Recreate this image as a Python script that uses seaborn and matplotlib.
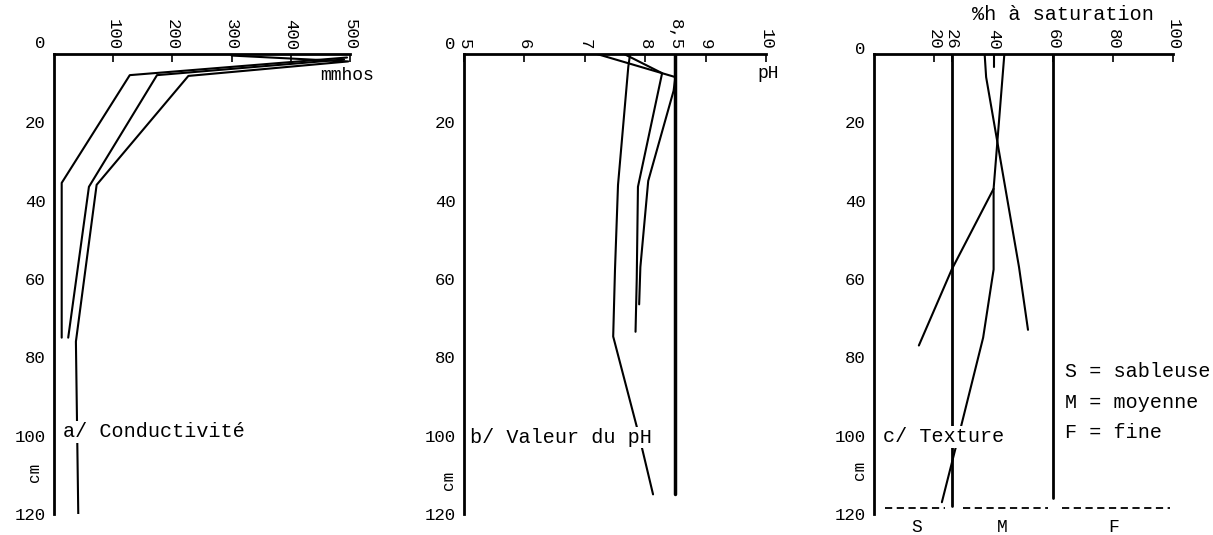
import matplotlib
matplotlib.use("Agg")
import matplotlib.pyplot as plt
import seaborn as sns

# a/ Conductivite (mmhos) against depth (cm)
cond_depth_1 = [3.5, 8, 35.5, 75]
cond_1 = [495, 128, 13, 13]
cond_depth_2 = [4, 8, 36.5, 75]
cond_2 = [490, 174, 59, 24]
cond_depth_3 = [3, 4.5, 8.2, 36, 76, 120]
cond_3 = [300, 497, 227, 72, 37, 41]
cond_ticks = [100, 200, 300, 400, 500]

# b/ Valeur du pH
ph_depth_1 = [2.6, 5.9, 36, 57.6, 74.7, 97.7, 104, 115]
ph_1 = [7.75, 7.72, 7.55, 7.5, 7.47, 7.86, 7.96, 8.13]
ph_depth_2 = [2.6, 8.5, 12, 35, 57, 66.5]
ph_2 = [7.2, 8.5, 8.47, 8.05, 7.92, 7.9]
ph_depth_3 = [2.6, 7.5, 36.5, 60, 73.5]
ph_3 = [7.65, 8.28, 7.88, 7.86, 7.84]
ph_ref_depth = [2.6, 115]
ph_ref = [8.5, 8.5]
ph_ticks = [5, 6, 7, 8, 8.5, 9, 10]
ph_labels = ["5", "6", "7", "8", "8,5", "9", "10"]

# c/ Texture (%h a saturation)
tex_depth_1 = [2.6, 8.5, 57, 73]
tex_1 = [37, 37.5, 48.5, 51.5]
tex_depth_2 = [2.6, 37, 57.6, 75, 98, 117]
tex_2 = [43.6, 40, 40, 36.5, 29, 22.7]
tex_depth_3 = [37, 57.6, 77]
tex_3 = [40, 26, 15]
tex_stub_depth = [2.6, 6]
tex_stub = [40, 40]
limit_s_depth = [2.6, 118]
limit_s = [26, 26]
limit_f_depth = [2.6, 116]
limit_f = [60, 60]
tex_ticks = [20, 26, 40, 60, 80, 100]
class_bounds = [(3.7, 23.7), (29.8, 58.2), (62.9, 99)]
class_names = ["S", "M", "F"]
class_pos = [14.4, 42.8, 80]

depth_ticks = [20, 40, 60, 80, 100, 120]

sns.set_style("white")
plt.rcParams["font.family"] = ["Liberation Mono", "DejaVu Sans Mono"]
plt.rcParams["text.color"] = "black"
plt.rcParams["xtick.color"] = "black"
plt.rcParams["ytick.color"] = "black"

fig = plt.figure(figsize=(12.13, 5.35), dpi=100)
bottom = 0.0393
height = 0.8598
ax_a = fig.add_axes([0.04452, bottom, 0.2440, height])
ax_b = fig.add_axes([0.38252, bottom, 0.24897, height])
ax_c = fig.add_axes([0.72053, bottom, 0.2465, height])

box = dict(facecolor="white", edgecolor="none", pad=1)


def line(ax, x, y, lw=1.5):
    sns.lineplot(x=x, y=y, sort=False, estimator=None, color="black",
                 linewidth=lw, ax=ax)


def frame(ax, xlim, ticks, labels, zero_depth, cm_depth, cm_off):
    ax.set_xlim(*xlim)
    ax.set_ylim(120, 2.6)
    ax.xaxis.tick_top()
    ax.set_xticks(ticks)
    ax.set_xticklabels(labels)
    ax.set_yticks(depth_ticks)
    ax.tick_params(axis="x", direction="in", length=6, width=1.2,
                   labelrotation=-90, pad=3, labelsize=12.5)
    ax.tick_params(axis="y", length=0, pad=6, labelsize=12.5)
    for s in ["right", "bottom"]:
        ax.spines[s].set_visible(False)
    for s in ["top", "left"]:
        ax.spines[s].set_linewidth(2)
        ax.spines[s].set_color("black")
    ax.set_xlabel("")
    ax.set_ylabel("")
    ax.annotate("0", xy=(0, zero_depth), xycoords=("axes fraction", "data"),
                xytext=(-6, 0), textcoords="offset points", ha="right",
                va="center", fontsize=12.5, annotation_clip=False)
    ax.annotate("cm", xy=(0, cm_depth), xycoords=("axes fraction", "data"),
                xytext=(-cm_off, 0), textcoords="offset points", ha="center",
                va="center", rotation=90, fontsize=11.5, annotation_clip=False)


# panel a
line(ax_a, cond_1, cond_depth_1)
line(ax_a, cond_2, cond_depth_2)
line(ax_a, cond_3, cond_depth_3)
frame(ax_a, (0, 500), cond_ticks, [str(t) for t in cond_ticks], 0, 109.5, 14)
ax_a.text(449, 8, "mmhos", fontsize=13, va="center")
ax_a.text(15, 99, "a/ Conductivité", fontsize=14.5, va="center", bbox=box)

# panel b
line(ax_b, ph_1, ph_depth_1)
line(ax_b, ph_2, ph_depth_2)
line(ax_b, ph_3, ph_depth_3)
line(ax_b, ph_ref, ph_ref_depth, lw=2.5)
frame(ax_b, (5, 10), ph_ticks, ph_labels, 0.3, 111.3, 11)
ax_b.text(9.86, 7.5, "pH", fontsize=13, va="center")
ax_b.text(5.1, 100.5, "b/ Valeur du pH", fontsize=14.5, va="center", bbox=box)

# panel c
line(ax_c, tex_1, tex_depth_1)
line(ax_c, tex_2, tex_depth_2)
line(ax_c, tex_3, tex_depth_3)
line(ax_c, tex_stub, tex_stub_depth)
line(ax_c, limit_s, limit_s_depth, lw=2)
line(ax_c, limit_f, limit_f_depth, lw=2)
for (x0, x1) in class_bounds:
    ax_c.plot([x0, x1], [118.5, 118.5], color="black", lw=1.3,
              linestyle=(0, (4, 2.5)), clip_on=False)
for name, xpos in zip(class_names, class_pos):
    ax_c.text(xpos, 123.5, name, fontsize=13, ha="center", va="center",
              clip_on=False)
frame(ax_c, (0, 100), tex_ticks, [str(t) for t in tex_ticks], 1.5, 109, 10.5)
ax_c.text(32.8, -7.5, "%h à saturation", fontsize=14.5, va="center",
          clip_on=False)
ax_c.text(3, 100.3, "c/ Texture", fontsize=14.5, va="center", bbox=box)
ax_c.text(63.9, 83.7, "S = sableuse", fontsize=14.5, va="center")
ax_c.text(63.9, 91.6, "M = moyenne", fontsize=14.5, va="center")
ax_c.text(63.9, 99.3, "F = fine", fontsize=14.5, va="center")

for ax in (ax_a, ax_b, ax_c):
    leg = ax.get_legend()
    if leg is not None:
        leg.remove()

fig.savefig("out.png", dpi=100)
